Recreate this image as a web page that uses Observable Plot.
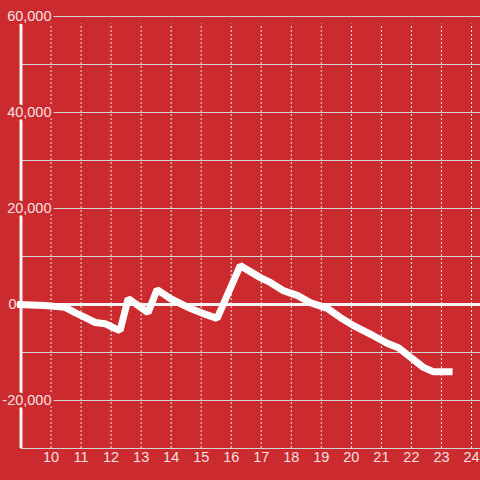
<!DOCTYPE html>
<html><head><meta charset="utf-8">
<script src="https://cdn.jsdelivr.net/npm/d3@7"></script>
<script src="https://cdn.jsdelivr.net/npm/@observablehq/plot@0.6"></script>
<style>html,body{margin:0;padding:0;background:#cb2a2f;overflow:hidden;}</style>
</head><body><div id="chart"></div>
<script>
const hours = [8.87, 9.8, 10.47, 10.8, 11.13, 11.47, 11.8, 12.13, 12.3, 12.57, 13.23, 13.53, 13.97, 14.63, 15.07, 15.53, 16.3, 16.97, 17.3, 17.73, 18.2, 18.63, 19.2, 19.63, 20.07, 20.73, 21.2, 21.57, 21.97, 22.4, 22.73, 23.37];
const values = [0, -200, -600, -1700, -2700, -3750, -4000, -5000, -5400, 1250, -1700, 3100, 1250, -800, -1900, -2900, 8100, 5600, 4600, 2900, 1900, 400, -800, -2700, -4400, -6500, -8100, -9000, -11000, -13100, -14000, -14000];
const xTicks = [10, 11, 12, 13, 14, 15, 16, 17, 18, 19, 20, 21, 22, 23, 24];
const xTickLabels = ["10","11","12","13","14","15","16","17","18","19","20","21","22","23","24"];
const yGrid = [-30000, -20000, -10000, 10000, 20000, 30000, 40000, 50000, 60000];
const yTicks = [60000, 40000, 20000, -20000];
const yTickLabels = ["60,000", "40,000", "20,000", "-20,000"];
const zeroLabel = "0";

const data = hours.map((h, i) => ({h, v: values[i]}));
const bg = "#cb2a2f";
const txt = "#f3e0e0";
const chart = Plot.plot({
  width: 480, height: 480,
  marginLeft: 20.5, marginRight: 0, marginTop: 16, marginBottom: 32,
  x: {domain: [9, 24.3], axis: null},
  y: {domain: [-30000, 60000], axis: null},
  style: {background: bg, fontFamily: "'Liberation Sans', Arial, sans-serif", fontSize: "14.5px"},
  marks: [
    Plot.ruleY(yGrid, {y: d => d, x1: () => 9, x2: () => 24.3, stroke: "#d2d2d2", strokeWidth: 1}),
    Plot.ruleX(xTicks, {x: d => d, y1: () => -30000, y2: () => 58400, stroke: "#e8e8e8", strokeDasharray: "2,2", strokeWidth: 1}),
    Plot.ruleY([0], {y: d => d, x1: () => 8.87, x2: () => 24.3, stroke: "#f4f4f4", strokeWidth: 3}),
    Plot.ruleX([9], {x: d => d, y1: () => -30000, y2: () => 58400, stroke: "#f4f4f4", strokeWidth: 3}),
    Plot.line(data, {x: "h", y: "v", stroke: "#ffffff", strokeWidth: 7, strokeLinejoin: "miter", strokeLinecap: "butt"}),
    Plot.text(yTicks, {y: d => d, text: (d, i) => yTickLabels[i], frameAnchor: "left", dx: 30.5, textAnchor: "end", fill: txt, stroke: bg, strokeWidth: 5}),
    Plot.text([0], {y: d => d, text: () => zeroLabel, frameAnchor: "left", dx: -4.5, textAnchor: "end", fill: txt}),
    Plot.text(xTicks, {x: d => d, text: (d, i) => xTickLabels[i], frameAnchor: "bottom", dy: 13, fill: txt})
  ]
});
document.getElementById("chart").appendChild(chart);
</script>
</body></html>
